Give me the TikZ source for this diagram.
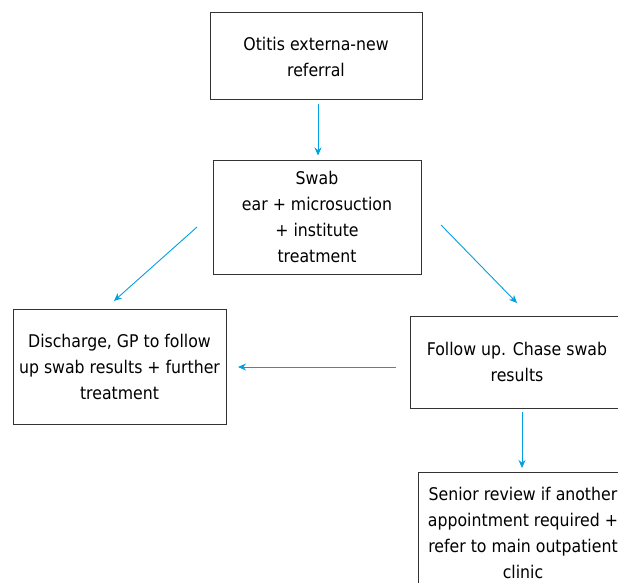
\documentclass[tikz,border=0pt]{standalone}
\usepackage{fontspec}
\setmainfont{DejaVu Sans Condensed}
\usetikzlibrary{arrows.meta}
\definecolor{arrowblue}{RGB}{0,160,227}
\tikzset{
  box/.style={draw=black!80, line width=1pt, rectangle, align=center, inner sep=0pt, font=\fontsize{17.5}{26}\selectfont},
  conn/.style={draw=arrowblue, line width=0.9pt, -{Stealth[length=8pt,width=7pt]}}
}
\begin{document}
\begin{tikzpicture}[x=1pt,y=-1pt]
\useasboundingbox (0,0) rectangle (618,583);
\clip (0,0) rectangle (618,583);
\node[box, minimum width=212pt, minimum height=87pt] (b1) at (316,56.5) {Otitis externa-new\\referral};
\node[box, minimum width=208pt, minimum height=114pt] (b2) at (317,217) {Swab\\ear + microsuction\\+ institute\\treatment};
\node[box, minimum width=213pt, minimum height=115pt] (b3) at (119.5,366.5) {Discharge, GP to follow\\up swab results + further\\treatment};
\node[box, minimum width=214pt, minimum height=92pt] (b4) at (517,362) {Follow up. Chase swab\\results};
\node[box, minimum width=210pt, minimum height=122pt] (b5) at (523,533) {Senior review if another\\appointment required +\\refer to main outpatient\\clinic};
\coordinate (a2s) at (197,227);
\coordinate (a2e) at (114,301);
\coordinate (a3s) at (441,225);
\coordinate (a3e) at (517,303);
\coordinate (a4s) at (396,367);
\coordinate (a4e) at (238,367);
\coordinate (a5s) at (522,412);
\coordinate (a5e) at (522,468);
\draw[conn, shorten <=4pt, shorten >=4pt] (b1.south -| 318,0) -- (b2.north -| 318,0);
\draw[conn] (a2s) -- (a2e);
\draw[conn] (a3s) -- (a3e);
\draw[conn] (a4s) -- (a4e);
\draw[conn] (a5s) -- (a5e);
\end{tikzpicture}
\end{document}
